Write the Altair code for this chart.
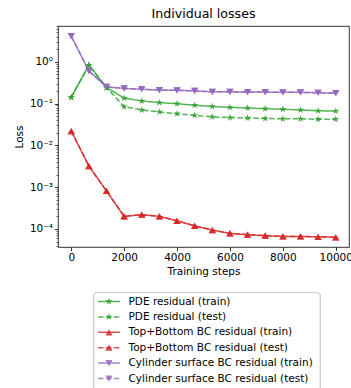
import math
import altair as alt
import pandas as pd

# ---------------- data ----------------
STEPS = [0, 667, 1333, 2000, 2667, 3333, 4000, 4667, 5333, 6000, 6667, 7333, 8000, 8667, 9333, 10000]

SERIES = [
    "PDE residual (train)",
    "PDE residual (test)",
    "Top+Bottom BC residual (train)",
    "Top+Bottom BC residual (test)",
    "Cylinder surface BC residual (train)",
    "Cylinder surface BC residual (test)",
]

PDE_TRAIN = [0.14, 0.83, 0.24, 0.135, 0.115, 0.105, 0.099, 0.091, 0.085, 0.081, 0.078, 0.075, 0.073, 0.070, 0.067, 0.066]
PDE_TEST = [0.14, 0.83, 0.24, 0.084, 0.070, 0.063, 0.057, 0.052, 0.048, 0.046, 0.045, 0.044, 0.043, 0.043, 0.042, 0.042]
BC_TRAIN = [0.022, 0.0032, 0.00081, 0.00020, 0.00022, 0.00020, 0.000157, 0.000118, 0.000094, 0.000078, 0.000073, 0.000069, 0.000066, 0.000066, 0.000065, 0.000063]
BC_TEST = [0.022, 0.0032, 0.00081, 0.00020, 0.00022, 0.00020, 0.000157, 0.000118, 0.000094, 0.000078, 0.000073, 0.000069, 0.000066, 0.000066, 0.000065, 0.000063]
CYL_TRAIN = [4.1, 0.6, 0.25, 0.23, 0.22, 0.21, 0.207, 0.20, 0.19, 0.19, 0.188, 0.188, 0.185, 0.185, 0.181, 0.178]
CYL_TEST = [4.1, 0.6, 0.25, 0.23, 0.22, 0.21, 0.207, 0.20, 0.19, 0.19, 0.188, 0.188, 0.185, 0.185, 0.181, 0.178]

X_TICKS = [0, 2000, 4000, 6000, 8000, 10000]
Y_TICKS = [1, 0.1, 0.01, 0.001, 0.0001]
Y_TICK_LABELS = ["10⁰", "10⁻¹", "10⁻²", "10⁻³", "10⁻⁴"]

# ---------------- styles ----------------
COLORS = ["#2ca02c", "#2ca02c", "#d62728", "#d62728", "#9467bd", "#9467bd"]
DASHES = [[1, 0], [5.5, 2.4], [1, 0], [5.5, 2.4], [1, 0], [5.5, 2.4]]
FS = 10.5


def star_path(s):
    pts = []
    for i in range(10):
        ang = math.radians(-90 + 36 * i)
        r = s if i % 2 == 0 else s * 0.382
        pts.append(f"{r * math.cos(ang):.3f},{r * math.sin(ang):.3f}")
    return "M" + "L".join(pts) + "Z"


STAR = star_path(1.05)
MARKERS = [STAR, STAR, "triangle-up", "triangle-up", "triangle-down", "triangle-down"]

rows = []
for name, vals in zip(SERIES, [PDE_TRAIN, PDE_TEST, BC_TRAIN, BC_TEST, CYL_TRAIN, CYL_TEST]):
    for s, v in zip(STEPS, vals):
        rows.append({"step": s, "loss": v, "series": name})
df = pd.DataFrame(rows)
legend_df = pd.DataFrame({"series": SERIES})

FONT = "DejaVu Sans"

label_expr = " : ".join(
    f"abs(log(datum.value)/LN10 - ({round(math.log10(v))})) < 0.01 ? '{lab}'"
    for v, lab in zip(Y_TICKS, Y_TICK_LABELS)
) + " : ''"

MINOR = []
for e in range(-5, 1):
    for k in range(2, 10):
        v = k * 10 ** e
        if 3.7e-5 <= v <= 7.15:
            MINOR.append(v)

x_scale = alt.Scale(domain=[-500, 10500], nice=False, zero=False)
y_scale = alt.Scale(type="log", domain=[3.7e-5, 7.15], nice=False)

x_enc = alt.X(
    "step:Q", scale=x_scale,
    axis=alt.Axis(values=X_TICKS, format="d", title="Training steps",
                  labelFlush=False, labelOverlap=False, labelPadding=2, titlePadding=3),
)
y_major = alt.Y(
    "loss:Q", scale=y_scale,
    axis=alt.Axis(values=Y_TICKS, labelExpr=label_expr, title="Loss", orient="left",
                  labelOverlap=False, labelPadding=2, titlePadding=5, labelBaseline="middle"),
)
y_minor = alt.Y(
    "loss:Q", scale=y_scale,
    axis=alt.Axis(values=MINOR, labels=False, title=None, orient="left", tickSize=2,
                  tickWidth=0.6, domain=False, grid=False),
)
y_none = alt.Y("loss:Q", scale=y_scale, axis=None)

color_scale = alt.Scale(domain=SERIES, range=COLORS)
dash_scale = alt.Scale(domain=SERIES, range=DASHES)
color_enc = alt.Color("series:N", scale=color_scale, legend=None)

lines = alt.Chart(df).mark_line(strokeWidth=1.5, opacity=0.8).encode(
    x=x_enc,
    y=y_major,
    color=color_enc,
    strokeDash=alt.StrokeDash("series:N", scale=dash_scale, legend=None),
)


def marker_layer(names, shape, size):
    return alt.Chart(df).transform_filter(
        alt.FieldOneOfPredicate(field="series", oneOf=names)
    ).mark_point(filled=True, opacity=0.85, size=size, shape=shape).encode(
        x=x_enc,
        y=y_none,
        color=color_enc,
    )


stars = marker_layer(SERIES[0:2], STAR, 52)
ups = marker_layer(SERIES[2:4], "triangle-up", 52)
downs = marker_layer(SERIES[4:6], "triangle-down", 52)

minor = alt.Chart(df).mark_point(opacity=0).encode(x=x_enc, y=y_minor)

# ---------------- legend (drawn below the plot) ----------------
leg_y = alt.Y("series:N", sort=SERIES,
              scale=alt.Scale(type="point", domain=SERIES, range=[275.5, 352.5], padding=0),
              axis=None)

leg_box = alt.Chart(legend_df).mark_rect(
    fill="white", stroke="#cccccc", strokeWidth=0.8, cornerRadius=3
).encode(x=alt.value(36), x2=alt.value(262), y=alt.value(266.7), y2=alt.value(372))

leg_lines = alt.Chart(legend_df).mark_rule(strokeWidth=1.5, opacity=0.8).encode(
    x=alt.value(40), x2=alt.value(62), y=leg_y,
    color=color_enc,
    strokeDash=alt.StrokeDash("series:N", scale=dash_scale, legend=None),
)

leg_marks = alt.Chart(legend_df).mark_point(filled=True, opacity=0.85, size=52).encode(
    x=alt.value(51), y=leg_y,
    color=color_enc,
    shape=alt.Shape("series:N", scale=alt.Scale(domain=SERIES, range=MARKERS), legend=None),
)

leg_text = alt.Chart(legend_df).mark_text(
    align="left", baseline="middle", fontSize=FS, font=FONT, color="black"
).encode(x=alt.value(70.5), y=leg_y, text="series:N")

chart = (
    alt.layer(lines, stars, ups, downs, minor, leg_box, leg_lines, leg_marks, leg_text)
    .resolve_scale(y="independent")
    .resolve_axis(y="independent")
    .properties(
        width=291, height=221,
        title=alt.Title("Individual losses", fontSize=12.6, fontWeight="normal", color="black",
                        font=FONT, anchor="middle", frame="group", offset=5),
        autosize=alt.AutoSizeParams(type="none"),
        padding={"left": 58, "top": 26, "right": 2, "bottom": 141},
    )
    .configure(font=FONT)
    .configure_view(stroke="black", strokeWidth=0.8)
    .configure_axis(
        labelFontSize=FS, titleFontSize=FS, labelColor="black", titleColor="black",
        tickColor="black", tickWidth=0.8, tickSize=3.5, domain=False, grid=False,
        titleFontWeight="normal", labelFont=FONT, titleFont=FONT,
    )
)

chart.save("out.html", embed_options={"renderer": "svg", "actions": False})
